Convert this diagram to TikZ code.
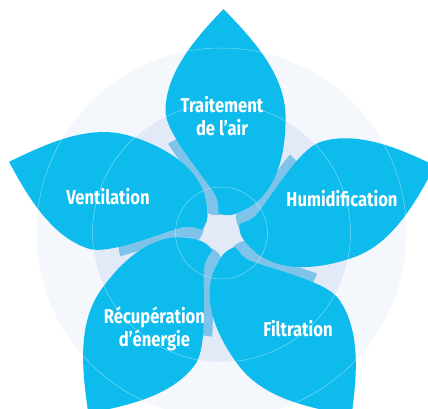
\documentclass[tikz,border=0pt]{standalone}
\usepackage{fontspec}
\setmainfont{Fira Sans}[FakeStretch=0.83]
\definecolor{petalblue}{HTML}{0DBBED}
\definecolor{bandblue}{HTML}{7DC3EA}
\definecolor{ringout}{HTML}{F4F7FC}
\definecolor{ringmid}{HTML}{E2EAF7}
% one leaf, pointing up, base at the centre
\newcommand\leafpath{(-3,20) .. controls (2,17) and (10,17) .. (16,20)
  .. controls (50,32) and (65,70) .. (64,118)
  .. controls (63,160) and (30,195) .. (2,224)
  .. controls (-26,195) and (-56,160) .. (-56,122)
  .. controls (-56,100) and (-20,60) .. (-6,38)
  .. controls (-3,32) and (-3,26) .. (-3,20) -- cycle}
\tikzset{
  petal/.style={fill=petalblue},
  band/.style={fill=bandblue},
  ringline/.style={draw=white,draw opacity=0.45,line width=0.5pt},
  label/.style={text=white,font=\bfseries\fontsize{20}{23}\selectfont,align=center}
}

\begin{document}
\begin{tikzpicture}[x=1pt,y=1pt]
    \useasboundingbox (-221.5,-176) rectangle (206.5,233);
    \fill[white] (-221.5,-176) rectangle (206.5,233);
    \fill[ringout] (0,0) circle (185);
    \fill[ringmid] (0,0) circle (129);
    \begin{scope}
      \clip (0,0) circle (104);
      \foreach \a in {0,72,144,216,288}
        \fill[band,rotate=\a,xshift=-11] \leafpath;
    \end{scope}
    \foreach \a in {0,72,144,216,288}
      \fill[petal,rotate=\a] \leafpath;
    \draw[ringline] (0,0) circle (185);
    \draw[ringline] (0,0) circle (129);
    \draw[ringline] (0,0) circle (46);
    \node[label] (trait) at (0.5,116.5) {Traitement\\de l’air};
    \node[label] (vent) at (-113.5,36) {Ventilation};
    \node[label] (humi) at (120.5,34) {Humidification};
    \node[label] (recup) at (-67,-96) {Récupération\\d’énergie};
    \node[label] (filt) at (76.5,-96) {Filtration};
  \end{tikzpicture}
\end{document}
